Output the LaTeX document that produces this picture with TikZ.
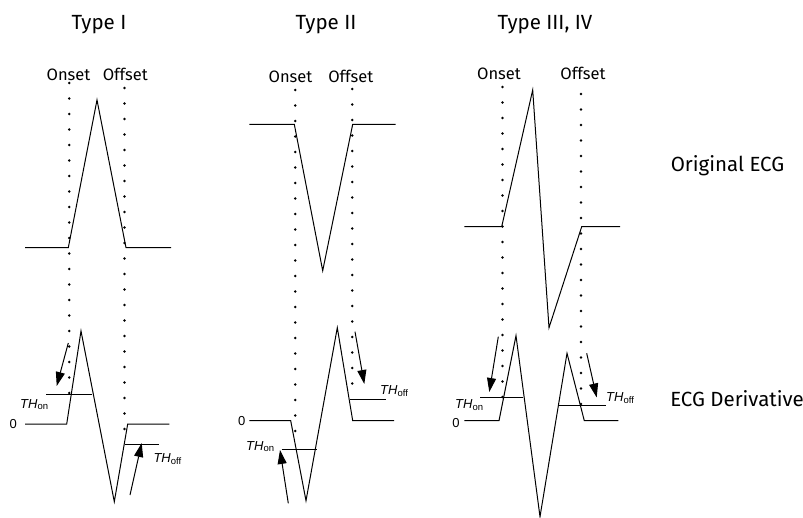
\documentclass[tikz,border=0pt]{standalone}
\usepackage{fontspec}
\setmainfont{Fira Sans}
\newfontfamily\arialf{Liberation Sans}
\usetikzlibrary{arrows.meta}
\newcommand{\thlab}[1]{{\itshape TH}\raisebox{-0.25ex}{\fontsize{9.5}{10}\selectfont #1}}
\begin{document}
\begin{tikzpicture}[x=1pt,y=-1pt,
  wave/.style={line width=1pt, line join=miter},
  dotline/.style={line width=2.8pt, line cap=round, dash pattern=on 0pt off 15.5pt},
  arr/.style={line width=1pt, -{Triangle[length=14pt,width=9pt]}},
  ttl/.style={font=\fontsize{20.5}{24}\selectfont, inner sep=0pt, anchor=base},
  evt/.style={font=\fontsize{16.5}{19}\selectfont, inner sep=0pt, anchor=base},
  side/.style={font=\fontsize{20.5}{24}\selectfont, inner sep=0pt, anchor=base},
  thl/.style={font=\arialf\fontsize{13}{15}\selectfont, inner sep=0pt, anchor=base west},
  zero/.style={font=\arialf\fontsize{13}{15}\selectfont, inner sep=0pt}
]
\useasboundingbox (0,0) rectangle (803,518);

% ---------- titles ----------
\node[ttl] (t1) at (99,29.3) {Type I};
\node[ttl] (t2) at (326,29.3) {Type II};
\node[ttl] (t3) at (545,29.3) {Type III, IV};
\node[side] (s1) at (727.5,172) {Original ECG};
\node[side] (s2) at (737,406.5) {ECG Derivative};

% ---------- onset / offset labels ----------
\node[evt] (on1) at (68.5,81) {Onset};
\node[evt] (of1) at (125.3,81) {Offset};
\node[evt] (on2) at (290.5,83) {Onset};
\node[evt] (of2) at (350.8,83) {Offset};
\node[evt] (on3) at (499,80) {Onset};
\node[evt] (of3) at (583,80) {Offset};

% ---------- dotted marker lines ----------
\coordinate (d1a) at (69.3,83);   \coordinate (d1b) at (69.3,395);
\coordinate (d1c) at (124.5,88);  \coordinate (d1d) at (124.5,432);
\coordinate (d2a) at (295.3,90);  \coordinate (d2b) at (295.3,433);
\coordinate (d2c) at (352.3,89);  \coordinate (d2d) at (352.3,386);
\coordinate (d3a) at (502.5,87);  \coordinate (d3b) at (502.5,400);
\coordinate (d3c) at (581,94);    \coordinate (d3d) at (581,407);
\draw[dotline] (d1a) -- (d1b);
\draw[dotline] (d1c) -- (d1d);
\draw[dotline] (d2a) -- (d2b);
\draw[dotline] (d2c) -- (d2d);
\draw[dotline] (d3a) -- (d3b);
\draw[dotline] (d3c) -- (d3d);

% ---------- Type I ----------
\coordinate (a1) at (25,247.7);  \coordinate (a2) at (68.3,247.7);
\coordinate (a3) at (97,100);    \coordinate (a4) at (126,247.7);
\coordinate (a5) at (171,247.7);
\draw[wave] (a1) -- (a2) -- (a3) -- (a4) -- (a5);

\coordinate (b1) at (25,424);    \coordinate (b2) at (66.7,424);
\coordinate (b3) at (81,331);    \coordinate (b4) at (114.3,501.7);
\coordinate (b5) at (127.7,424); \coordinate (b6) at (169.3,424);
\draw[wave] (b1) -- (b2) -- (b3) -- (b4) -- (b5) -- (b6);
\coordinate (h1a) at (46,394);   \coordinate (h1b) at (92.3,394);
\draw[wave] (h1a) -- (h1b);
\coordinate (h1c) at (125,444.3); \coordinate (h1d) at (159.3,444.3);
\draw[wave] (h1c) -- (h1d);
\node[zero] (z1) at (13.3,424) {0};
\node[thl] (th1) at (20,408) {\thlab{on}};
\node[thl] (th2) at (153.3,462.5) {\thlab{off}};
\coordinate (r1a) at (68.3,343);  \coordinate (r1b) at (56.7,386);
\draw[arr] (r1a) -- (r1b);
\coordinate (r2a) at (130,495);   \coordinate (r2b) at (141.7,443);
\draw[arr] (r2a) -- (r2b);

% ---------- Type II ----------
\coordinate (c1) at (249.3,124.3); \coordinate (c2) at (294.3,124.3);
\coordinate (c3) at (322.7,270.7); \coordinate (c4) at (352.7,124.3);
\coordinate (c5) at (395.7,124.3);
\draw[wave] (c1) -- (c2) -- (c3) -- (c4) -- (c5);

\coordinate (e1) at (249.3,420.7); \coordinate (e2) at (290.7,420.7);
\coordinate (e3) at (306,500.7);   \coordinate (e4) at (337.3,327.7);
\coordinate (e5) at (352.7,420.7); \coordinate (e6) at (394,420.7);
\draw[wave] (e1) -- (e2) -- (e3) -- (e4) -- (e5) -- (e6);
\coordinate (h2a) at (281.7,449); \coordinate (h2b) at (317.3,449);
\draw[wave] (h2a) -- (h2b);
\coordinate (h2c) at (350,399.3); \coordinate (h2d) at (386,399.3);
\draw[wave] (h2c) -- (h2d);
\node[zero] (z2) at (241.7,420.7) {0};
\node[thl] (th3) at (246,450) {\thlab{on}};
\node[thl] (th4) at (380,395) {\thlab{off}};
\coordinate (r3a) at (288.3,503.3); \coordinate (r3b) at (280,450);
\draw[arr] (r3a) -- (r3b);
\coordinate (r4a) at (355,331.7);   \coordinate (r4b) at (364.3,384);
\draw[arr] (r4a) -- (r4b);

% ---------- Type III, IV ----------
\coordinate (f1) at (464.3,226.7); \coordinate (f2) at (501.7,226.7);
\coordinate (f3) at (532.7,90);    \coordinate (f4) at (549,327.7);
\coordinate (f5) at (581.7,226.7); \coordinate (f6) at (620,226.7);
\draw[wave] (f1) -- (f2) -- (f3) -- (f4) -- (f5) -- (f6);

\coordinate (g1) at (464.3,420.7); \coordinate (g2) at (499,420.7);
\coordinate (g3) at (516,335.7);   \coordinate (g4) at (540,516.7);
\coordinate (g5) at (567,353.3);   \coordinate (g6) at (584.3,420.7);
\coordinate (g7) at (618.3,420.7);
\draw[wave] (g1) -- (g2) -- (g3) -- (g4) -- (g5) -- (g6) -- (g7);
\coordinate (h3a) at (480,397.7);  \coordinate (h3b) at (522.7,397.7);
\draw[wave] (h3a) -- (h3b);
\coordinate (h3c) at (559,405.7);  \coordinate (h3d) at (605.7,405.7);
\draw[wave] (h3c) -- (h3d);
\node[zero] (z3) at (456,423.5) {0};
\node[thl] (th5) at (455,408.3) {\thlab{on}};
\node[thl] (th6) at (606,401.7) {\thlab{off}};
\coordinate (r5a) at (498.3,336.7); \coordinate (r5b) at (489.3,392);
\draw[arr] (r5a) -- (r5b);
\coordinate (r6a) at (586.7,353.3); \coordinate (r6b) at (596.7,397.5);
\draw[arr] (r6a) -- (r6b);
\end{tikzpicture}
\end{document}
